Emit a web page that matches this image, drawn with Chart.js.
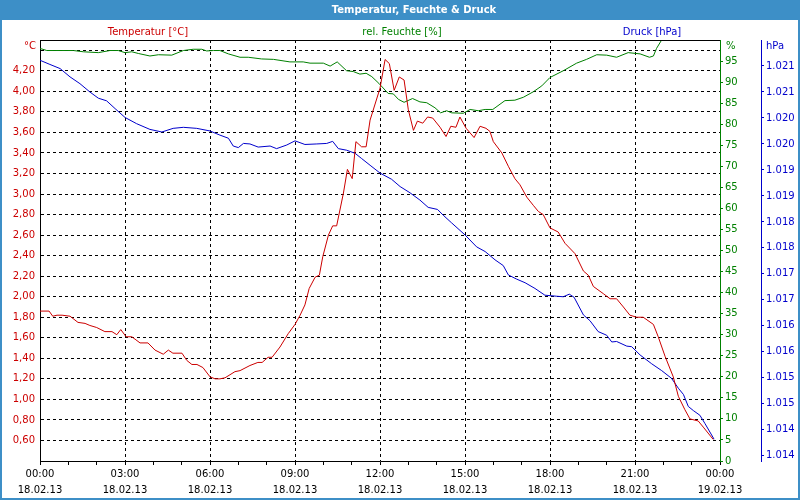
<!DOCTYPE html>
<html>
<head>
<meta charset="utf-8">
<script src="https://cdn.jsdelivr.net/npm/chart.js@4"></script>
<style>
html,body{margin:0;padding:0;background:#fff;}
#wrap{width:800px;height:500px;position:relative;}
</style>
</head>
<body>
<div id="wrap"><canvas id="c" width="800" height="500"></canvas></div>
<script>
// ---------- data (hours since 18.02.13 00:00) ----------
const tempHours = [0.00,0.32,0.45,0.60,0.78,1.06,1.34,1.59,1.76,2.00,2.29,2.54,2.71,2.85,3.04,3.24,3.53,3.81,4.06,4.35,4.53,4.69,5.01,5.18,5.36,5.54,5.75,6.00,6.18,6.35,6.53,6.88,7.06,7.41,7.69,7.84,8.05,8.19,8.47,8.76,9.00,9.18,9.35,9.50,9.71,9.86,9.98,10.18,10.33,10.47,10.71,10.85,11.02,11.15,11.35,11.51,11.65,12.00,12.18,12.33,12.50,12.68,12.85,13.00,13.18,13.32,13.51,13.68,13.86,14.12,14.33,14.50,14.68,14.82,15.04,15.32,15.53,15.74,15.88,16.00,16.30,16.53,16.76,16.94,17.18,17.41,17.59,17.76,18.00,18.29,18.53,18.88,19.18,19.35,19.53,19.88,20.12,20.35,20.59,20.82,21.06,21.29,21.65,21.82,22.06,22.35,22.53,22.76,22.94,23.23,23.41,23.76];
const tempValues = [1.86,1.86,1.81,1.82,1.82,1.81,1.75,1.74,1.72,1.70,1.66,1.66,1.63,1.68,1.61,1.61,1.55,1.55,1.48,1.44,1.48,1.45,1.45,1.38,1.34,1.34,1.31,1.22,1.20,1.20,1.21,1.27,1.28,1.33,1.36,1.36,1.41,1.41,1.51,1.64,1.73,1.82,1.92,2.08,2.19,2.21,2.39,2.60,2.69,2.69,3.01,3.24,3.15,3.51,3.46,3.46,3.72,4.03,4.31,4.27,4.01,4.14,4.11,3.82,3.62,3.71,3.69,3.75,3.74,3.65,3.56,3.66,3.65,3.75,3.64,3.55,3.66,3.64,3.61,3.51,3.40,3.27,3.15,3.09,2.97,2.89,2.83,2.80,2.67,2.63,2.52,2.42,2.25,2.21,2.10,2.03,1.98,1.98,1.90,1.82,1.80,1.80,1.73,1.61,1.42,1.22,1.03,0.90,0.81,0.79,0.73,0.61];

const humHours = [0.00,0.24,1.18,1.53,2.06,2.47,2.76,3.00,3.24,3.47,3.88,4.18,4.65,5.06,5.41,5.71,5.88,6.12,6.35,6.65,7.06,7.35,7.82,8.24,8.82,9.29,9.53,10.00,10.24,10.49,10.82,11.06,11.29,11.51,11.71,11.96,12.29,12.47,12.65,12.85,13.15,13.41,13.65,13.94,14.14,14.35,14.53,14.94,15.18,15.47,15.71,15.98,16.41,16.76,17.06,17.41,17.71,18.00,18.47,18.94,19.29,19.65,20.00,20.35,20.76,21.18,21.51,21.65,21.76,21.94,22.24,22.94,23.79];
const humValues = [98.0,97.5,97.5,97.2,97.0,97.5,97.5,97.0,97.2,96.8,96.2,96.5,96.4,97.5,97.8,97.8,97.4,97.5,97.5,96.7,95.9,95.9,95.5,95.4,94.8,94.8,94.5,94.5,93.8,94.8,92.7,92.5,91.9,92.1,91.3,89.7,87.3,87.2,85.9,85.2,86.1,85.3,85.1,83.9,82.7,83.2,82.7,82.6,83.5,83.2,83.5,83.5,85.6,85.7,86.4,87.7,89.1,91.1,92.7,94.5,95.4,96.5,96.4,95.9,97.0,96.7,95.9,96.2,98.0,100.0,103.0,104.0,104.0];

const presHours = [0.00,0.35,0.71,1.06,1.41,1.76,2.06,2.35,2.65,3.00,3.41,3.88,4.30,4.70,5.06,5.53,6.00,6.35,6.65,6.82,7.00,7.18,7.41,7.70,8.12,8.35,8.71,9.00,9.35,9.77,10.12,10.33,10.53,10.82,11.12,11.35,11.65,12.00,12.41,12.71,13.06,13.41,13.70,14.03,14.23,14.53,15.00,15.41,15.71,16.06,16.35,16.53,16.82,17.12,17.47,17.82,18.24,18.47,18.68,18.85,19.18,19.41,19.70,20.00,20.18,20.35,20.71,20.88,21.18,21.59,21.94,22.29,22.53,22.71,22.88,23.06,23.29,23.47,23.79];
const presValues = [1021.21,1021.13,1021.05,1020.89,1020.76,1020.60,1020.48,1020.43,1020.28,1020.11,1019.99,1019.88,1019.83,1019.90,1019.92,1019.90,1019.85,1019.77,1019.71,1019.56,1019.53,1019.61,1019.60,1019.54,1019.56,1019.51,1019.58,1019.66,1019.59,1019.60,1019.61,1019.65,1019.51,1019.48,1019.42,1019.32,1019.19,1019.04,1018.92,1018.78,1018.66,1018.52,1018.38,1018.34,1018.23,1018.08,1017.85,1017.62,1017.53,1017.37,1017.26,1017.08,1017.00,1016.93,1016.82,1016.69,1016.67,1016.66,1016.71,1016.65,1016.31,1016.20,1015.99,1015.92,1015.79,1015.80,1015.71,1015.70,1015.54,1015.37,1015.24,1015.09,1014.90,1014.78,1014.55,1014.47,1014.38,1014.22,1013.92];

// ---------- ticks ----------
const hourTicks = [0,1,2,3,4,5,6,7,8,9,10,11,12,13,14,15,16,17,18,19,20,21,22,23,24];
const xTickLabels = [["00:00","18.02.13"],["03:00","18.02.13"],["06:00","18.02.13"],["09:00","18.02.13"],["12:00","18.02.13"],["15:00","18.02.13"],["18:00","18.02.13"],["21:00","18.02.13"],["00:00","19.02.13"]];
const tempTicks = [0.6,0.8,1.0,1.2,1.4,1.6,1.8,2.0,2.2,2.4,2.6,2.8,3.0,3.2,3.4,3.6,3.8,4.0,4.2,4.4];
const tempTickLabels = ["0,60","0,80","1,00","1,20","1,40","1,60","1,80","2,00","2,20","2,40","2,60","2,80","3,00","3,20","3,40","3,60","3,80","4,00","4,20",""];
const humTicks = [0,5,10,15,20,25,30,35,40,45,50,55,60,65,70,75,80,85,90,95];
const humTickLabels = ["0","5","10","15","20","25","30","35","40","45","50","55","60","65","70","75","80","85","90","95"];
const presTicks = [1013.6,1014.1,1014.6,1015.1,1015.6,1016.1,1016.6,1017.1,1017.6,1018.1,1018.6,1019.1,1019.6,1020.1,1020.6,1021.1];
const presTickLabels = ["1.014","1.014","1.015","1.015","1.016","1.016","1.017","1.017","1.018","1.018","1.019","1.019","1.020","1.020","1.021","1.021"];

const seriesNames = ["Temperatur [°C]","rel. Feuchte [%]","Druck [hPa]"];
const chartTitle = "Temperatur, Feuchte & Druck";

// ---------- styles ----------
const RED = '#cc0000', GREEN = '#008000', BLUE = '#0000cc', FRAME = '#3d8fc7';
const FONT = "'DejaVu Sans', Verdana, sans-serif";

const framePlugin = {
  id: 'frame',
  beforeDraw(chart) {
    const ctx = chart.ctx;
    ctx.save();
    ctx.fillStyle = '#fff';
    ctx.fillRect(0, 0, 800, 500);
    ctx.fillStyle = FRAME;
    ctx.fillRect(0, 0, 800, 20);
    ctx.fillRect(0, 0, 2, 500);
    ctx.fillRect(798, 0, 2, 500);
    ctx.fillRect(0, 498, 800, 2);
    ctx.restore();
  },
  afterDraw(chart) {
    const ctx = chart.ctx, a = chart.chartArea;
    ctx.save();
    ctx.strokeStyle = '#000';
    ctx.lineWidth = 1;
    ctx.beginPath();
    ctx.moveTo(a.left, a.top + 0.5);
    ctx.lineTo(a.right, a.top + 0.5);
    ctx.stroke();

    ctx.textBaseline = 'middle';
    ctx.font = "bold 10px " + FONT;
    ctx.fillStyle = '#fff';
    ctx.textAlign = 'center';
    ctx.fillText(chartTitle, 414, 10);

    ctx.font = "10px " + FONT;
    ctx.fillStyle = RED;   ctx.fillText(seriesNames[0], 148, 32);
    ctx.fillStyle = GREEN; ctx.fillText(seriesNames[1], 402, 32);
    ctx.fillStyle = BLUE;  ctx.fillText(seriesNames[2], 652, 32);

    ctx.textAlign = 'right';
    ctx.fillStyle = RED; ctx.fillText('°C', 36, 46);
    ctx.textAlign = 'left';
    ctx.fillStyle = GREEN; ctx.fillText('%', 726, 46);
    ctx.fillStyle = BLUE;  ctx.fillText('hPa', 766, 46);
    ctx.restore();
  }
};

const pts = (xs, ys) => xs.map((x, i) => ({x: x, y: ys[i]}));

new Chart(document.getElementById('c'), {
  type: 'line',
  data: {
    datasets: [
      {label: seriesNames[0], data: pts(tempHours, tempValues), yAxisID: 'yT', borderColor: RED, borderWidth: 1, pointRadius: 0, tension: 0, fill: false},
      {label: seriesNames[1], data: pts(humHours, humValues), yAxisID: 'yH', borderColor: GREEN, borderWidth: 1, pointRadius: 0, tension: 0, fill: false},
      {label: seriesNames[2], data: pts(presHours, presValues), yAxisID: 'yP', borderColor: BLUE, borderWidth: 1, pointRadius: 0, tension: 0, fill: false}
    ]
  },
  options: {
    responsive: false,
    animation: false,
    events: [],
    layout: {padding: {top: 40, left: 0, right: 0, bottom: 0}},
    plugins: {legend: {display: false}, title: {display: false}, tooltip: {enabled: false}},
    scales: {
      x: {
        type: 'linear', position: 'bottom', min: 0, max: 24,
        afterBuildTicks: s => { s.ticks = hourTicks.map(v => ({value: v})); },
        afterFit: s => { s.height = 39; },
        ticks: {
          autoSkip: false, maxRotation: 0, minRotation: 0, padding: 1,
          color: '#000', font: {family: FONT, size: 10, lineHeight: 1.6},
          callback: v => (v % 3 === 0 ? xTickLabels[v / 3] : '')
        },
        grid: {
          color: c => (c.tick && c.tick.value % 3 === 0 && c.tick.value !== 0 && c.tick.value !== 24) ? '#000' : 'rgba(0,0,0,0)',
          tickColor: '#000', tickLength: 4, lineWidth: 1
        },
        border: {display: true, color: '#000', width: 1, dash: [3, 3]}
      },
      yT: {
        type: 'linear', position: 'left', min: 0.4, max: 4.5,
        afterBuildTicks: s => { s.ticks = tempTicks.map(v => ({value: v})); },
        afterFit: s => { s.width = 40; },
        ticks: {color: RED, padding: 5, font: {family: FONT, size: 10}, callback: (v, i) => tempTickLabels[i]},
        grid: {color: '#000', drawTicks: false, lineWidth: 1},
        border: {display: true, color: '#000', width: 1, dash: [3, 3]}
      },
      yH: {
        type: 'linear', position: 'right', weight: 1, min: 0, max: 100,
        afterBuildTicks: s => { s.ticks = humTicks.map(v => ({value: v})); },
        afterFit: s => { s.width = 41; },
        ticks: {color: GREEN, padding: 2, font: {family: FONT, size: 10}, callback: (v, i) => humTickLabels[i]},
        grid: {drawOnChartArea: false, drawTicks: true, tickLength: 3, color: GREEN, tickColor: GREEN},
        border: {display: true, color: GREEN, width: 1}
      },
      yP: {
        type: 'linear', position: 'right', weight: 2, min: 1013.5, max: 1021.6,
        afterBuildTicks: s => { s.ticks = presTicks.map(v => ({value: v})); },
        afterFit: s => { s.width = 39; },
        ticks: {color: BLUE, padding: 2, font: {family: FONT, size: 10}, callback: (v, i) => presTickLabels[i]},
        grid: {drawOnChartArea: false, drawTicks: true, tickLength: 3, color: BLUE, tickColor: BLUE},
        border: {display: true, color: BLUE, width: 1}
      }
    }
  },
  plugins: [framePlugin]
});
</script>
</body>
</html>
